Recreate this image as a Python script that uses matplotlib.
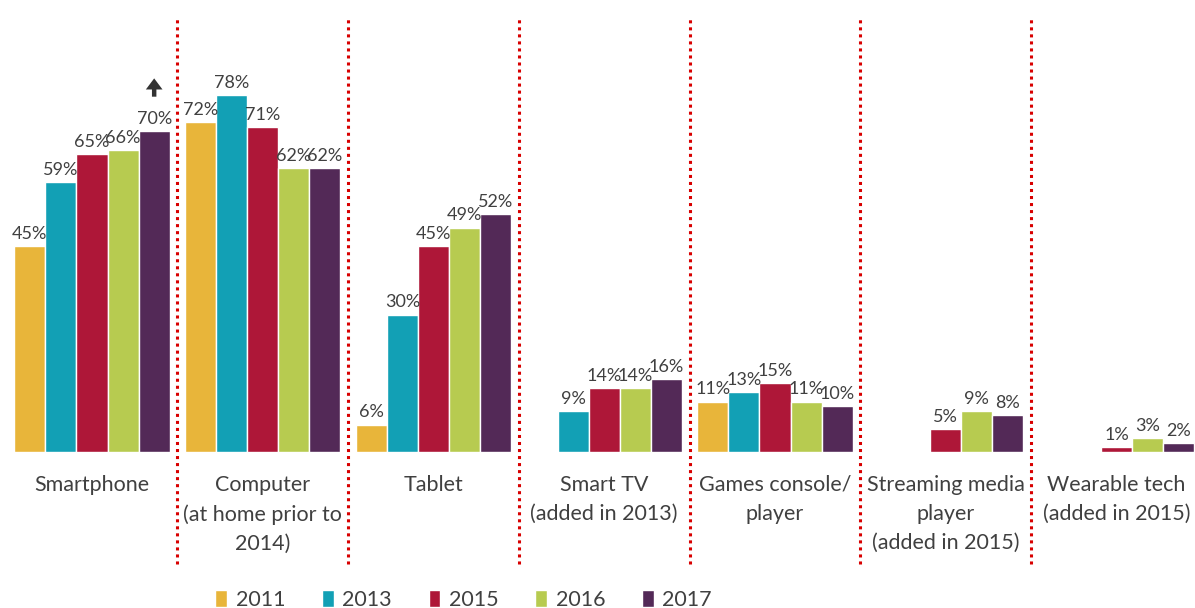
import matplotlib
matplotlib.use('AGG')
import matplotlib.pyplot as plt
import numpy as np
from matplotlib.patches import Patch

# Device ownership categories and yearly shares (%), None = not asked that year
categories = ['Smartphone', 'Computer\n(at home prior to\n2014)', 'Tablet',
              'Smart TV\n(added in 2013)', 'Games console/\nplayer',
              'Streaming media\nplayer\n(added in 2015)', 'Wearable tech\n(added in 2015)']
years = ['2011', '2013', '2015', '2016', '2017']
v2011 = [45, 72, 6, None, 11, None, None]
v2013 = [59, 78, 30, 9, 13, None, None]
v2015 = [65, 71, 45, 14, 15, 5, 1]
v2016 = [66, 62, 49, 14, 11, 9, 3]
v2017 = [70, 62, 52, 16, 10, 8, 2]
colors = ['#E8B53A', '#12A0B5', '#AE1738', '#B7CB50', '#532957']

plt.rcParams['font.family'] = ['Lato', 'DejaVu Sans']
text_col = '#404040'

fig = plt.figure(figsize=(11.95, 6.08), dpi=100)
ax = fig.add_axes([0, 0.2566, 1, 0.738])

series = [v2011, v2013, v2015, v2016, v2017]
x = np.arange(len(categories))
w = 0.182
for i, (vals, col) in enumerate(zip(series, colors)):
    xs = [xi + (i - 2) * w for xi, v in zip(x, vals) if v is not None]
    ys = [v for v in vals if v is not None]
    bars = ax.bar(xs, ys, width=w, color=col, edgecolor='white', linewidth=1)
    for b, v in zip(bars, ys):
        ax.annotate(f'{v}%', (b.get_x() + b.get_width() / 2, v), xytext=(0, 3),
                    textcoords='offset points', ha='center', va='bottom',
                    fontsize=13, color=text_col)

# arrow above the 2017 smartphone bar
ax.annotate('', xy=(2 * w, 81.6), xytext=(2 * w, 77.6),
            arrowprops=dict(arrowstyle='simple,head_length=0.5,head_width=0.75,tail_width=0.2',
                            color='#333333', lw=0, mutation_scale=16,
                            shrinkA=0, shrinkB=0))

# dotted red dividers between categories, running down through the labels
for k in range(len(categories) - 1):
    ax.axvline(k + 0.5, ymin=-0.25, ymax=0.97, color='#D80000', linestyle=(0, (1, 1.3)),
               linewidth=2.2, clip_on=False)

for xi, c in zip(x, categories):
    ax.text(xi, -5, c, ha='center', va='top', fontsize=15.5, color=text_col,
            linespacing=1.55)

ax.set_xlim(-0.539, 6.46)
ax.set_ylim(0, 98)
ax.axis('off')

handles = [Patch(facecolor=c, edgecolor='white') for c in colors]
fig.legend(handles, years, loc='center', bbox_to_anchor=(0.388, 0.013), ncol=5,
           frameon=False, fontsize=15.5, labelcolor=text_col, handlelength=0.55,
           handleheight=0.8, handletextpad=0.4, columnspacing=1.7)

fig.savefig('out.png', dpi=100)
